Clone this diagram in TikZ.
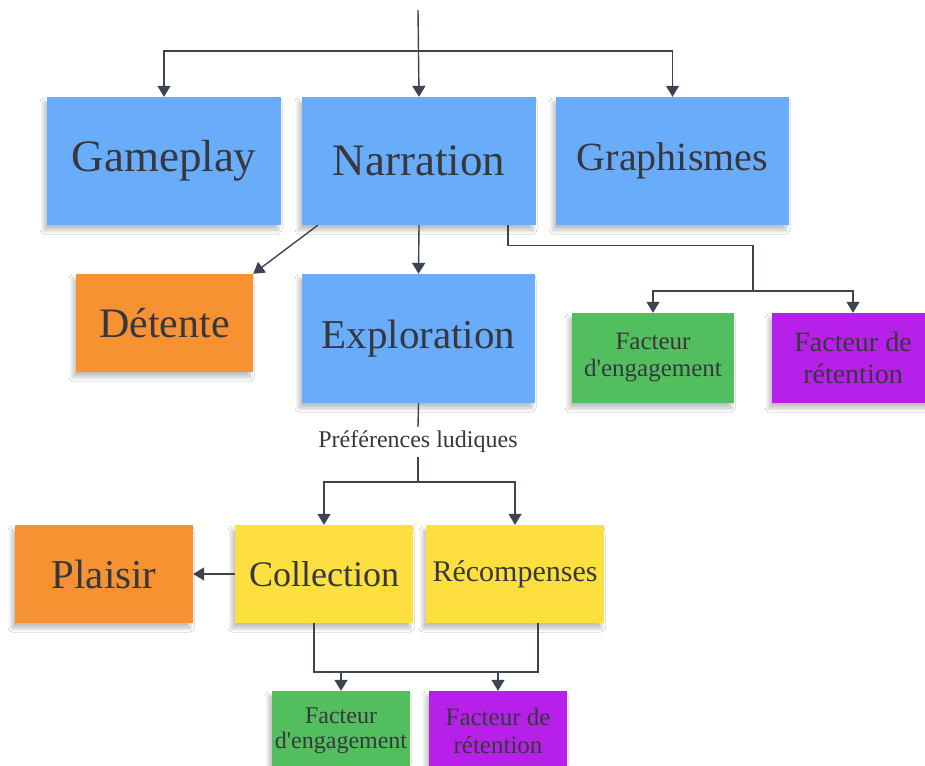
\documentclass[tikz,border=0pt]{standalone}
\usepackage{fontspec}
\setmainfont{Liberation Serif}
\usetikzlibrary{arrows.meta,calc,shadows.blur}

\definecolor{noteblue}{RGB}{105,172,250}
\definecolor{noteorange}{RGB}{247,146,50}
\definecolor{noteyellow}{RGB}{253,223,64}
\definecolor{notegreen}{RGB}{82,190,94}
\definecolor{notepurple}{RGB}{182,32,232}
\definecolor{inktext}{RGB}{55,55,62}
\definecolor{inkline}{RGB}{61,67,80}

\newcommand{\fsz}[2]{\fontsize{#1}{#2}\selectfont}

\tikzset{
  note/.style={rectangle, inner sep=0pt, align=center, text=inktext,
    blur shadow={shadow xshift=-3pt, shadow yshift=-5pt, shadow opacity=26, shadow blur steps=8, shadow blur radius=4pt}},
  link/.style={draw=inkline, line width=1.4pt},
  tolink/.style={link, -{Triangle[length=11pt,width=13pt]}},
}

\begin{document}
\begin{tikzpicture}[x=1pt,y=-1pt]
  \clip (0,0) rectangle (925,765);
  \fill[white] (0,0) rectangle (925,765);

  % top row
  \node[note, fill=noteblue, minimum width=234pt, minimum height=128pt, font=\fsz{45}{50}] (game) at (164,161) {Gameplay};
  \node[note, fill=noteblue, minimum width=234pt, minimum height=128pt, font=\fsz{45}{50}] (narr) at (419,161) {Narration};
  \node[note, fill=noteblue, minimum width=233pt, minimum height=128pt, font=\fsz{40}{45}] (graph) at (672.5,161) {Graphismes};

  % second row
  \node[note, fill=noteorange, minimum width=177pt, minimum height=98pt, font=\fsz{42}{46}] (det) at (164.5,323) {Détente};
  \node[note, fill=noteblue, minimum width=233pt, minimum height=129pt, font=\fsz{41}{46}] (expl) at (418.5,338.5) {Exploration};
  \node[note, fill=notegreen, minimum width=162pt, minimum height=90pt, font=\fsz{25}{27}] (fe1) at (653,358) {Facteur\\d\textquotesingle engagement};
  \node[note, fill=notepurple, minimum width=162pt, minimum height=90pt, font=\fsz{28}{32}] (fr1) at (853,358) {Facteur de\\rétention};

  % label under Exploration
  \node[text=inktext, inner sep=4pt, font=\fsz{24}{28}] (pref) at (418,442) {Préférences ludiques};

  % third row
  \node[note, fill=noteorange, minimum width=178pt, minimum height=98pt, font=\fsz{41}{46}] (pla) at (104,574) {Plaisir};
  \node[note, fill=noteyellow, minimum width=178pt, minimum height=98pt, font=\fsz{36}{40}] (col) at (324,574) {Collection};
  \node[note, fill=noteyellow, minimum width=178pt, minimum height=98pt, font=\fsz{30}{34}] (rec) at (515,574) {Récompenses};

  % bottom row
  \node[note, fill=notegreen, minimum width=138pt, minimum height=80pt, font=\fsz{24}{25}] (fe2) at (341,731) {Facteur\\d\textquotesingle engagement};
  \node[note, fill=notepurple, minimum width=138pt, minimum height=80pt, font=\fsz{25}{28}] (fr2) at (498,731) {Facteur de\\rétention};

  % connectors from the root
  \coordinate (root) at (418,10);
  \coordinate (hub) at (418,51);
  \draw[tolink] (root) -- (narr.north);
  \draw[tolink] (hub) -| (game.north);
  \draw[tolink] (hub) -| (graph.north);

  % from Narration
  \draw[tolink] ($(narr.south west)+(16,0)$) -- (det.north east);
  \draw[tolink] (narr.south) -- (expl.north);
  \coordinate (split) at (753,291);
  \coordinate (ns) at ($(narr.south west)+(206,0)$);
  \draw[link] (ns) -- ++(0,20) -| (split);
  \draw[tolink] (split) -| (fe1.north);
  \draw[tolink] (split) -| (fr1.north);

  % from Exploration
  \coordinate (hubb) at (418,482);
  \draw[link] (expl.south) -- (pref.north);
  \draw[link] (pref.south) -- (hubb);
  \draw[tolink] (hubb) -| (col.north);
  \draw[tolink] (hubb) -| (rec.north);

  \draw[tolink] (col.west) -- (pla.east);

  % to the lower factors
  \coordinate (bus) at (426,672);
  \coordinate (cs) at ($(col.south west)+(79,0)$);
  \coordinate (rs) at ($(rec.south west)+(112,0)$);
  \draw[link] (cs) -- (cs |- bus) -- (rs |- bus) -- (rs);
  \draw[tolink] (fe2.north |- bus) -- (fe2.north);
  \draw[tolink] (fr2.north |- bus) -- (fr2.north);
\end{tikzpicture}
\end{document}
